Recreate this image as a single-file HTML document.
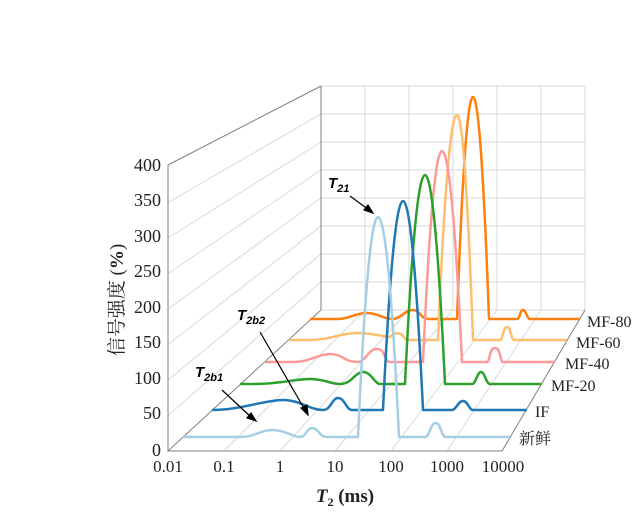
<!DOCTYPE html>
<html><head><meta charset="utf-8"><style>
body{margin:0;background:#fff;}
svg{display:block;font-family:"Liberation Serif","Noto Serif CJK SC",serif;}
</style></head><body>
<svg width="644" height="517" viewBox="0 0 644 517" xmlns="http://www.w3.org/2000/svg">
<g stroke="#d9d9d9" stroke-width="1" fill="none">
<rect x="321" y="86" width="264" height="224"/>
<path d="M321 114H585M321 142H585M321 170H585M321 198H585M321 226H585M321 254H585M321 282H585"/>
<path d="M365 86V310M409 86V310M453 86V310M497 86V310M541 86V310"/>
<path d="M168 415.5L321 282M168 380L321 254M168 344.5L321 226M168 309L321 198M168 273.5L321 170M168 238L321 142M168 202.5L321 114"/>
<path d="M224 451L365 310M280 451L409 310M335 451L453 310M391 451L497 310M447 451L541 310"/>
</g>
<g stroke="#7f7f7f" stroke-width="1" fill="none">
<path d="M168 165L321 86M321 86V310"/>
<path d="M168 165V451L321 310M168 451H502L585 310"/>
</g>
<g fill="none" stroke-width="2.5" stroke-linejoin="round">
<path stroke="#ff7f0e" d="M310 319H337C350 319 355 313 367 313C378 313 383 319 393 319C400 319 405 310 413 310C420 310 421 319 428 319H457Q465 97 473 97Q481 97 489 319H517C520 319 520 310 523 310C526 310 527 319 530 319H580"/>
<path stroke="#fdbf6f" d="M289 340H310C330 340 340 333 357 333C372 333 380 336 390 337C395 332 400 332 404 337C405 340 407 340 407 340H438Q447.5 115 457 115Q465 115 473 340H500C503 340 503 327 507 327C511 327 511 340 514 340H567"/>
<path stroke="#fb9a99" d="M265 362H293C310 362 318 354 330 354C342 354 345 362 357 362C366 362 368 349 377 349C386 349 384 362 390 362H423Q432.5 151 442 151Q452 151 462 362H487C490 362 489 348 495 348C501 348 500 362 503 362H555"/>
<path stroke="#2ca02c" d="M240 384H255C280 384 295 379 310 379C325 379 330 384 340 384C352 384 355 372 363 372C371 372 375 384 380 384H405Q415 175 425 175Q435 175 445 384H472C476 384 477 372 481 372C485 372 486 384 490 384H541"/>
<path stroke="#1f77b4" d="M212 410C240 410 265 400 283 400C300 400 310 410 323 410C331 410 332 398 338 398C345 398 346 410 352 410H383Q393 201 403 201Q413 201 423 410H452C456 410 458 401 463 401C468 401 469 410 473 410H527"/>
<path stroke="#a6cee3" d="M183 437H240C255 437 260 430 272 430C285 430 293 437 300 437C306 437 307 428 312 428C318 428 320 437 326 437H358Q368 217 378 217Q388.5 217 399 437H425C430 437 430 423 436 423C441 423 441 437 446 437H510"/>
</g>
<g stroke="#000" stroke-width="1.2" fill="#000">
<line x1="350" y1="196" x2="369" y2="210"/><polygon points="373,213 364,210 368,205"/>
<line x1="260" y1="332" x2="305" y2="410"/><polygon points="308,415 301,408 307,405"/>
<line x1="222" y1="390" x2="252" y2="418"/><polygon points="256,421 247,418 251,413"/>
</g>
<g font-family="Liberation Sans,sans-serif" font-weight="bold" font-style="italic" font-size="15">
<text x="328" y="188">T<tspan font-size="11" dy="4">21</tspan></text>
<text x="237" y="320">T<tspan font-size="11" dy="4">2b2</tspan></text>
<text x="195" y="377">T<tspan font-size="11" dy="4">2b1</tspan></text>
</g>
<g font-size="18" fill="#222" text-anchor="end">
<text x="161" y="171">400</text><text x="161" y="206">350</text><text x="161" y="242">300</text>
<text x="161" y="277">250</text><text x="161" y="313">200</text><text x="161" y="348">150</text>
<text x="161" y="384">100</text><text x="161" y="419">50</text><text x="161" y="456">0</text>
</g>
<g font-size="17" fill="#222" text-anchor="middle">
<text x="168" y="472">0.01</text><text x="224" y="472">0.1</text><text x="280" y="472">1</text>
<text x="335" y="472">10</text><text x="391" y="472">100</text><text x="447" y="472">1000</text><text x="503" y="472">10000</text>
</g>
<g font-size="16" fill="#222">
<text x="587" y="327">MF-80</text><text x="576" y="348">MF-60</text><text x="565" y="369">MF-40</text>
<text x="551" y="391">MF-20</text><text x="535" y="417">IF</text><text x="519" y="444">新鲜</text>
</g>
<text transform="translate(123,300) rotate(-90)" font-size="19" text-anchor="middle" fill="#222">信号强度 (<tspan font-weight="bold">%</tspan>)</text>
<text x="345" y="502" font-size="19" text-anchor="middle" fill="#222" font-weight="bold"><tspan font-style="italic">T</tspan><tspan font-size="12" dy="4">2</tspan><tspan dy="-4"> (ms)</tspan></text>
</svg>
</body></html>
